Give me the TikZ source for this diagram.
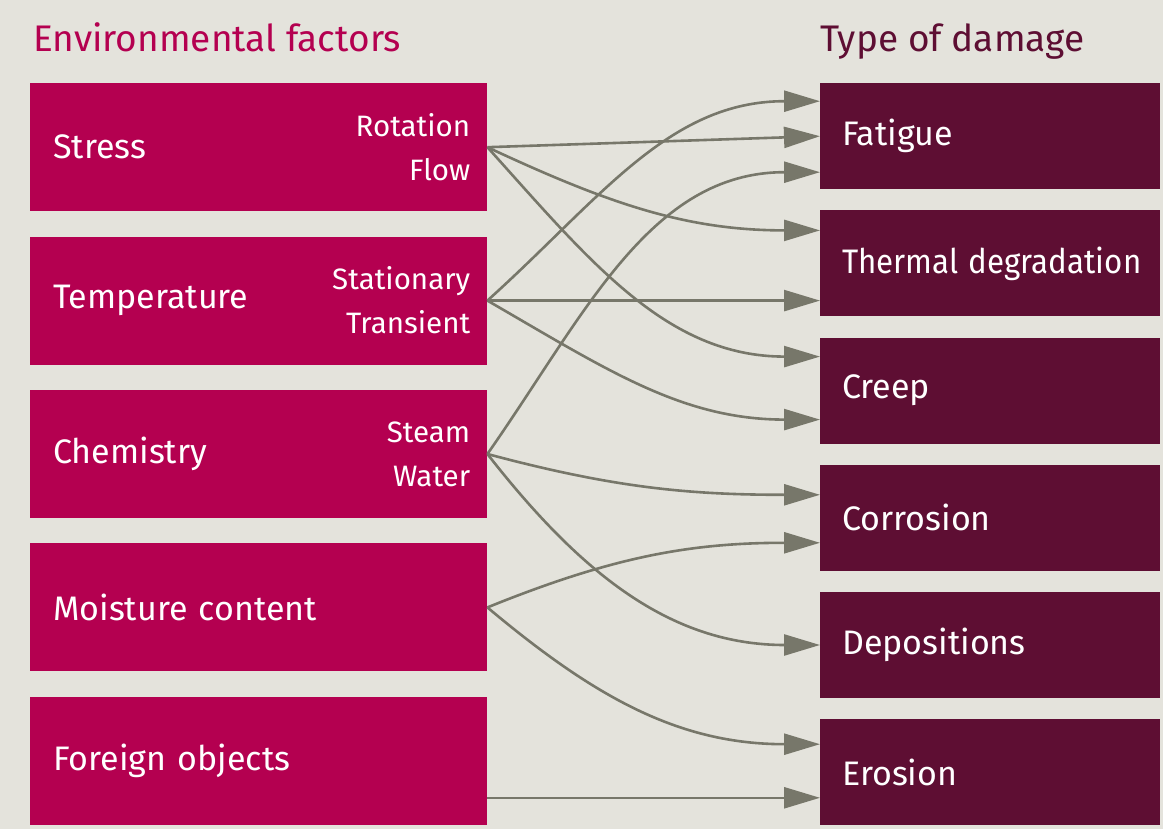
\documentclass[tikz,border=0pt]{standalone}
\usepackage{fontspec}
\setmainfont{Fira Sans}
\usepackage{xcolor}
\usepackage{graphicx}
\usetikzlibrary{arrows.meta, positioning, calc}

\definecolor{bgpaper}{RGB}{228,227,220}
\definecolor{factorred}{RGB}{180,0,80}
\definecolor{damagedark}{RGB}{94,14,51}
\definecolor{linkgrey}{RGB}{119,119,106}

\begin{document}
\begin{tikzpicture}[
  x=1pt, y=1pt,
  factor/.style={rectangle, fill=factorred, text=white, anchor=north west,
    minimum width=457pt, minimum height=128pt, inner xsep=23pt,
    text width=411pt, align=left, font=\fontsize{34}{40}\selectfont},
  sub/.style={text=white, align=right, anchor=east, inner sep=0pt,
    font=\fontsize{29.5}{44}\selectfont},
  damage/.style={rectangle, fill=damagedark, text=white, anchor=north west,
    minimum width=340pt, minimum height=106pt, inner xsep=22pt,
    text width=296pt, align=left, font=\fontsize{34}{40}\selectfont},
  heading/.style={anchor=base west, inner sep=0pt, font=\fontsize{37}{42}\selectfont},
  link/.style={draw=linkgrey, line width=2.6pt,
    -{Triangle[length=36pt, width=21pt]}},
]
  \fill[bgpaper] (0,0) rectangle (1163,-829);

  % headings
  \node[heading, text=factorred] (envhead) at (33,-52) {Environmental factors};
  \node[heading, text=damagedark] (damhead) at (820,-52) {Type of damage};

  % environmental factors
  \node[factor] (stress) at (30,-83) {Stress};
  \node[factor, below=25pt of stress.south west, anchor=north west] (temp) {Temperature};
  \node[factor, below=25pt of temp.south west, anchor=north west] (chem) {Chemistry};
  \node[factor, below=25pt of chem.south west, anchor=north west] (moist) {Moisture content};
  \node[factor, below=25pt of moist.south west, anchor=north west] (foreign) {Foreign objects};

  \node[sub] (stresssub) at ([xshift=-17pt]stress.east) {Rotation\\Flow};
  \node[sub] (tempsub) at ([xshift=-17pt]temp.east) {Stationary\\Transient};
  \node[sub] (chemsub) at ([xshift=-17pt]chem.east) {Steam\\Water};

  % types of damage
  \node[damage] (fatigue) at (820,-83) {Fatigue};
  \node[damage, below=20.8pt of fatigue.south west, anchor=north west] (thermal) {\scalebox{0.92}[1]{Thermal degradation}};
  \node[damage, below=20.8pt of thermal.south west, anchor=north west] (creep) {Creep};
  \node[damage, below=20.8pt of creep.south west, anchor=north west] (corrosion) {Corrosion};
  \node[damage, below=20.8pt of corrosion.south west, anchor=north west] (depos) {Depositions};
  \node[damage, below=20.8pt of depos.south west, anchor=north west] (erosion) {Erosion};

  \coordinate (foreignout) at ([yshift=-37pt]foreign.east);

  % links
  \draw[link] (stress.east) -- (fatigue.west);
  \draw[link] (stress.east) to[out=-25, in=180] ([yshift=33pt]thermal.west);
  \draw[link] (stress.east) to[out=-48, in=180] ([yshift=34pt]creep.west);
  \draw[link] (temp.east) to[out=42, in=180] ([yshift=35pt]fatigue.west);
  \draw[link] (temp.east) -- (temp.east -| thermal.west);
  \draw[link] (temp.east) to[out=-30, in=180] ([yshift=-29pt]creep.west);
  \draw[link] (chem.east) to[out=55, in=180] ([yshift=-36pt]fatigue.west);
  \draw[link] (chem.east) to[out=-15, in=180] ([yshift=23pt]corrosion.west);
  \draw[link] (chem.east) to[out=-52, in=180] (depos.west);
  \draw[link] (moist.east) to[out=22, in=180] ([yshift=-25pt]corrosion.west);
  \draw[link] (moist.east) to[out=-40, in=180] ([yshift=28pt]erosion.west);
  \draw[link] (foreignout) -- (foreignout -| erosion.west);
\end{tikzpicture}
\end{document}
